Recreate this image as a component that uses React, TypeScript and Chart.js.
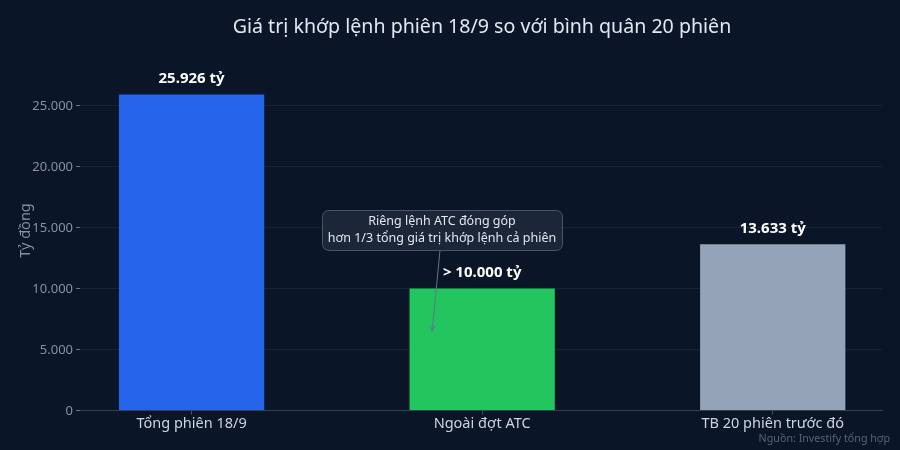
import { useEffect, useRef } from "react"
import { Chart, registerables } from "chart.js"

Chart.register(...registerables)

const FONT = '"Noto Sans", sans-serif'

const categories = ["Tổng phiên 18/9", "Ngoài đợt ATC", "TB 20 phiên trước đó"]
const values = [25926, 10000, 13633]
const valueLabels = ["25.926 tỷ", "> 10.000 tỷ", "13.633 tỷ"]
const barColors = ["#2563eb", "#22c55e", "#94a3b8"]
const yTicks = [0, 5000, 10000, 15000, 20000, 25000]
const noteLines = ["Riêng lệnh ATC đóng góp", "hơn 1/3 tổng giá trị khớp lệnh cả phiên"]
const titleText = "Giá trị khớp lệnh phiên 18/9 so với bình quân 20 phiên"
const yTitleText = "Tỷ đồng"
const sourceText = "Nguồn: Investify tổng hợp"

// labels, note and arrow sit on top of the bars
const overlayPlugin = {
  id: "overlay",
  afterDatasetsDraw(chart: Chart) {
    const { ctx, scales } = chart
    const x = scales.x
    const y = scales.y

    ctx.save()
    ctx.textAlign = "center"
    ctx.textBaseline = "middle"

    // title
    ctx.fillStyle = "#e2e8f0"
    ctx.font = `19.6px ${FONT}`
    ctx.fillText(titleText, 482, 27)

    // y axis title
    ctx.save()
    ctx.translate(26, 230.5)
    ctx.rotate(-Math.PI / 2)
    ctx.fillStyle = "#8492a6"
    ctx.font = `14.5px ${FONT}`
    ctx.fillText(yTitleText, 0, 0)
    ctx.restore()

    // value labels
    ctx.fillStyle = "#ffffff"
    ctx.font = `bold 15px ${FONT}`
    values.forEach((v, i) => {
      ctx.fillText(valueLabels[i], x.getPixelForValue(i), y.getPixelForValue(v) - 15.5)
    })

    // arrow from note to ATC bar
    const ax = x.getPixelForValue(0.828)
    const ay = y.getPixelForValue(6500)
    const sx = 440
    const sy = 250
    const ang = Math.atan2(ay - sy, ax - sx)
    ctx.strokeStyle = "#64748b"
    ctx.lineWidth = 1
    ctx.beginPath()
    ctx.moveTo(sx, sy)
    ctx.lineTo(ax, ay)
    ctx.moveTo(ax - 6 * Math.cos(ang - 0.45), ay - 6 * Math.sin(ang - 0.45))
    ctx.lineTo(ax, ay)
    ctx.lineTo(ax - 6 * Math.cos(ang + 0.45), ay - 6 * Math.sin(ang + 0.45))
    ctx.stroke()

    // note box
    ctx.beginPath()
    ctx.roundRect(322.5, 210.5, 240, 40, 6)
    ctx.fillStyle = "#1e293b"
    ctx.globalAlpha = 0.85
    ctx.fill()
    ctx.globalAlpha = 1
    ctx.strokeStyle = "#475569"
    ctx.stroke()
    ctx.fillStyle = "#e2e8f0"
    ctx.font = `12.5px ${FONT}`
    ctx.fillText(noteLines[0], 442, 221.5)
    ctx.fillText(noteLines[1], 442, 238)

    // source
    ctx.textAlign = "right"
    ctx.fillStyle = "#55647a"
    ctx.font = `10.7px ${FONT}`
    ctx.fillText(sourceText, 890, 439)
    ctx.restore()
  },
}

export default function App() {
  const chartRef = useRef<HTMLCanvasElement>(null)

  useEffect(() => {
    if (!chartRef.current) return
    const ctx = chartRef.current.getContext("2d")
    if (!ctx) return

    const chart = new Chart(ctx, {
      type: "bar",
      data: {
        datasets: [
          {
            data: values.map((v, i) => ({ x: i, y: v })),
            backgroundColor: barColors,
            barPercentage: 0.5,
            categoryPercentage: 1,
          },
        ],
      },
      options: {
        animation: false,
        responsive: false,
        layout: { padding: { top: 57, right: 18, bottom: 0, left: 0 } },
        plugins: {
          legend: { display: false },
          tooltip: { enabled: false },
        },
        scales: {
          x: {
            type: "linear",
            offset: false,
            min: -0.384,
            max: 2.376,
            afterBuildTicks: (scale) => {
              scale.ticks = categories.map((_, i) => ({ value: i }))
            },
            afterFit: (scale) => {
              scale.height = 39.5
            },
            ticks: {
              autoSkip: false,
              maxRotation: 0,
              color: "#cbd5e1",
              font: { family: FONT, size: 14.5 },
              padding: 1,
              callback: (value) => categories[Number(value)],
            },
            grid: { offset: false, drawOnChartArea: false, tickColor: "#475569", tickLength: 4 },
            border: { color: "#334155" },
          },
          y: {
            min: 0,
            max: 29000,
            afterBuildTicks: (scale) => {
              scale.ticks = yTicks.map((value) => ({ value }))
            },
            afterFit: (scale) => {
              scale.width = 80
            },
            ticks: {
              color: "#8492a6",
              font: { family: FONT, size: 13 },
              padding: 3,
              labelOffset: 0.7,
              callback: (value) => Number(value).toLocaleString("de-DE"),
            },
            grid: { color: "rgba(148, 163, 184, 0.1)", tickColor: "#64748b", tickLength: 4 },
            border: { display: false },
          },
        },
      },
      plugins: [overlayPlugin],
    })

    return () => chart.destroy()
  }, [])

  return (
    <div style={{ position: "fixed", left: 0, top: 0, width: 900, height: 450, background: "#0a1628" }}>
      <canvas ref={chartRef} width={900} height={450} style={{ display: "block" }} />
    </div>
  )
}
